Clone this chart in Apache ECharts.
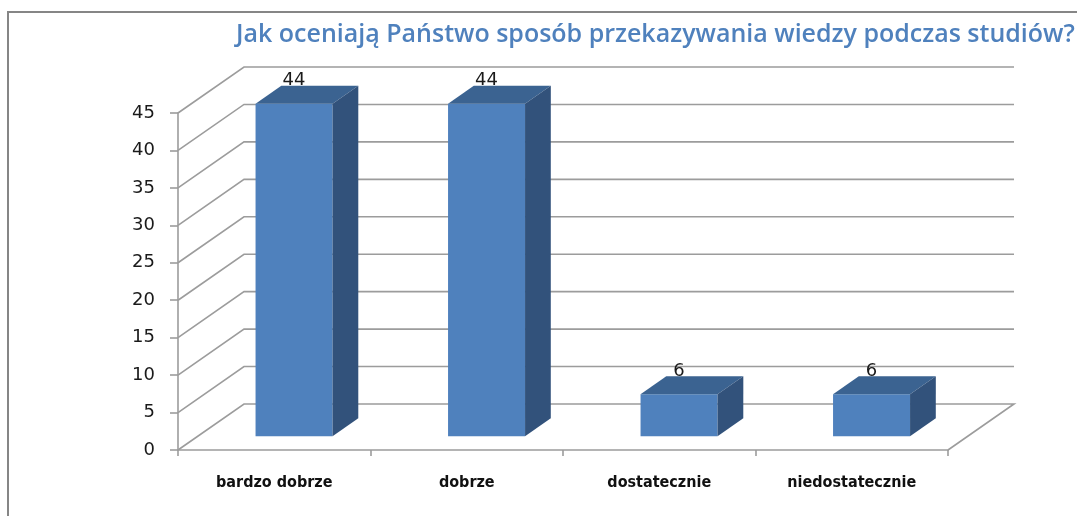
<!DOCTYPE html>
<html>
<head>
<meta charset="utf-8">
<script src="https://cdn.jsdelivr.net/npm/echarts@6/dist/echarts.min.js"></script>
<style>
html,body{margin:0;padding:0;background:#fff;}
#main{width:1077px;height:516px;}
</style>
</head>
<body>
<div id="main"></div>
<script>
// dane z wykresu
var categories = ['bardzo dobrze', 'dobrze', 'dostatecznie', 'niedostatecznie'];
var values = [44.4, 44.4, 5.6, 5.6];
var yTicks = [0, 5, 10, 15, 20, 25, 30, 35, 40, 45];

// przesuniecie glebokosci (udawane 3D)
var DX = 66, DY = -46;
var F = 0.30, D = 0.39;   // przod slupka i jego glebokosc jako czesc DX/DY

var myChart = echarts.init(document.getElementById('main'));

function renderWall(params, api) {
    var cs = params.coordSys;
    var v = api.value(1);
    var y = api.coord([0, v])[1];
    var x0 = cs.x, x1 = cs.x + cs.width;
    var pts;
    if (v === 0) {
        pts = [[x0, y], [x0 + DX, y + DY], [x1 + DX, y + DY], [x1, y]];
    } else {
        pts = [[x0, y], [x0 + DX, y + DY], [x1 + DX, y + DY]];
    }
    return {
        type: 'polyline',
        shape: {points: pts},
        style: {stroke: '#9c9c9c', lineWidth: 1.6, fill: null}
    };
}

function renderBar(params, api) {
    var idx = api.value(0), v = api.value(1);
    var c0 = api.coord([idx, 0]);
    var c1 = api.coord([idx, v]);
    var w = api.size([1, 0])[0] * 0.4;
    var xl = c0[0] - w / 2 + F * DX, xr = xl + w;
    var yb = c0[1] + F * DY, yt = c1[1] + F * DY;
    var ddx = D * DX, ddy = D * DY;
    return {
        type: 'group',
        children: [
            {type: 'rect', shape: {x: xl, y: yt, width: w, height: yb - yt}, style: {fill: '#4F81BD'}},
            {type: 'polygon', shape: {points: [[xl, yt], [xr, yt], [xr + ddx, yt + ddy], [xl + ddx, yt + ddy]]}, style: {fill: '#3B6391'}},
            {type: 'polygon', shape: {points: [[xr, yb], [xr, yt], [xr + ddx, yt + ddy], [xr + ddx, yb + ddy]]}, style: {fill: '#32527B'}},
            {type: 'text', style: {
                text: String(Math.round(v)), x: xl + w / 2, y: yt + ddy + 4,
                align: 'center', verticalAlign: 'bottom',
                fontFamily: 'DejaVu Sans', fontSize: 18, fill: '#1a1a1a'
            }}
        ]
    };
}

var option = {
    animation: false,
    title: {
        text: 'Jak oceniają Państwo sposób przekazywania wiedzy podczas studiów?',
        left: 231,
        top: 17,
        textStyle: {color: '#4F81BD', fontFamily: 'Open Sans', fontWeight: 600, fontSize: 25}
    },
    graphic: [{
        type: 'rect',
        shape: {x: 8, y: 12, width: 1200, height: 600},
        style: {fill: null, stroke: '#868686', lineWidth: 2},
        silent: true
    }],
    grid: {left: 178, right: 129, top: 113, bottom: 66},
    xAxis: {
        type: 'category',
        data: categories,
        axisLine: {lineStyle: {color: '#9c9c9c', width: 1.6}},
        axisTick: {show: true, length: 6, lineStyle: {color: '#9c9c9c', width: 1.6}},
        axisLabel: {
            margin: 25, color: '#111',
            fontFamily: 'DejaVu Sans Condensed', fontWeight: 'bold', fontSize: 16
        }
    },
    yAxis: {
        type: 'value',
        min: 0, max: 45, interval: 5,
        axisLine: {show: true, lineStyle: {color: '#9c9c9c', width: 1.6}},
        axisTick: {show: true, length: 8, lineStyle: {color: '#9c9c9c', width: 1.6}},
        splitLine: {show: false},
        axisLabel: {margin: 23, color: '#1a1a1a', fontFamily: 'DejaVu Sans', fontSize: 18}
    },
    series: [
        {
            type: 'custom',
            clip: false,
            z: 1,
            renderItem: renderWall,
            data: yTicks.map(function (v) { return [0, v]; })
        },
        {
            type: 'custom',
            clip: false,
            z: 3,
            renderItem: renderBar,
            data: values.map(function (v, i) { return [i, v]; })
        }
    ]
};
myChart.setOption(option);
</script>
</body>
</html>
